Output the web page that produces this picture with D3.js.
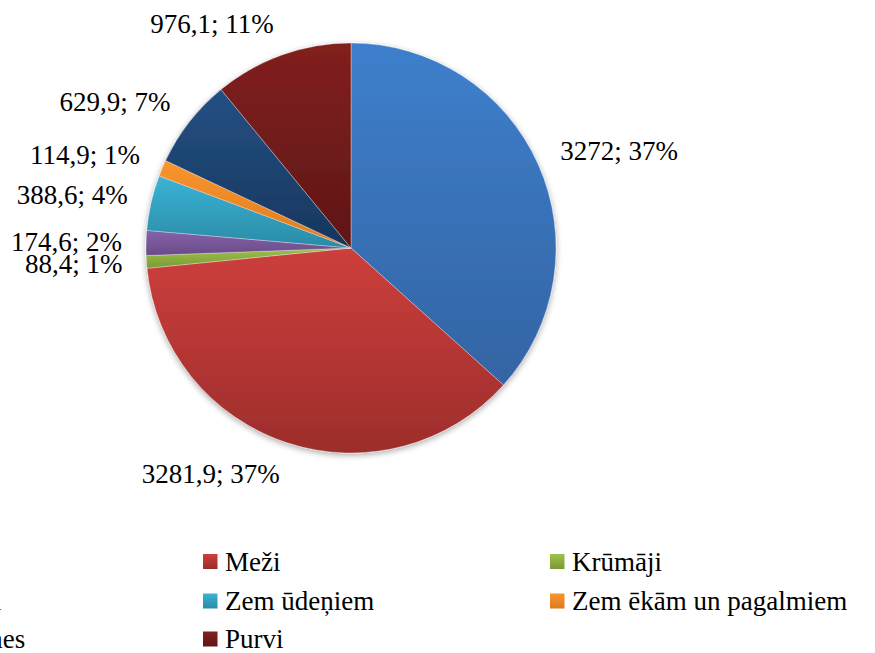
<!DOCTYPE html>
<html><head><meta charset="utf-8">
<script src="https://cdn.jsdelivr.net/npm/d3@7"></script>
</head><body style="margin:0">
<svg id="c" width="875" height="653" style="font-family:'Liberation Serif'"></svg>
<script>
const categories = ["Aramzeme","Meži","Krūmāji","Zem ceļiem","Zem ūdeņiem","Zem ēkām un pagalmiem","Pārējās zemes","Purvi"];
const values = [3272, 3281.9, 88.4, 174.6, 388.6, 114.9, 629.9, 976.1];
const labels = ["3272; 37%","3281,9; 37%","88,4; 1%","174,6; 2%","388,6; 4%","114,9; 1%","629,9; 7%","976,1; 11%"];
const topColors = ["#3d7fcc","#cd3f3c","#9dc24a","#8662aa","#3bb3d6","#f9952f","#245083","#82201f"];
const bottomColors = ["#3464a3","#9c2d2b","#7a9a36","#6a4b88","#2a8ba6","#e07a1d","#17365d","#5e1616"];
const legendOrder = [0,1,2,3,4,5,6,7];

const FONT = '"Liberation Serif"';
const svg = d3.select("#c");
const cx = 351, cy = 248, R = 205;

const defs = svg.append("defs");
categories.forEach((c,i)=>{
  const g = defs.append("linearGradient").attr("id","g"+i).attr("x1",0).attr("y1",0).attr("x2",0).attr("y2",1);
  g.append("stop").attr("offset","0%").attr("stop-color",topColors[i]);
  g.append("stop").attr("offset","100%").attr("stop-color",bottomColors[i]);
});
const f = defs.append("filter").attr("id","sh").attr("x","-10%").attr("y","-10%").attr("width","120%").attr("height","120%");
f.append("feGaussianBlur").attr("in","SourceAlpha").attr("stdDeviation",3);
f.append("feOffset").attr("dx",0).attr("dy",2).attr("result","b");
f.append("feComponentTransfer").append("feFuncA").attr("type","linear").attr("slope",0.35);
const fm = f.append("feMerge"); fm.append("feMergeNode"); fm.append("feMergeNode").attr("in","SourceGraphic");

const pie = d3.pie().sort(null).value(d=>d)(values);
const arc = d3.arc().innerRadius(0).outerRadius(R);

svg.append("g").attr("transform",`translate(${cx},${cy})`).attr("filter","url(#sh)")
  .selectAll("path").data(pie).join("path")
  .attr("d",arc).attr("fill",(d,i)=>`url(#g${i})`)
  .attr("stroke","rgba(255,255,255,0.45)").attr("stroke-width",0.7);

const off = 24;
pie.forEach((d,i)=>{
  const a = (d.startAngle+d.endAngle)/2;
  const ux = Math.sin(a), uy = -Math.cos(a);
  const px = cx + (R+off)*ux, py = cy + (R+off)*uy + uy*9 + 9;
  svg.append("text").attr("x",px).attr("y",py)
    .attr("text-anchor", Math.abs(ux)<0.05 ? "middle" : (ux<0?"end":"start"))
    .attr("font-size",27).style("font-family",FONT).attr("fill","#000")
    .text(labels[i]);
});

const colX = [-127, 225, 572];
const rowY = [561.5, 601, 639];
legendOrder.forEach((idx,k)=>{
  const col = k%3, row = Math.floor(k/3);
  svg.append("rect").attr("x",colX[col]-22).attr("y",rowY[row]-7.5).attr("width",14.5).attr("height",15).attr("fill",`url(#g${idx})`);
  svg.append("text").attr("x",colX[col]).attr("y",rowY[row]+9)
    .attr("font-size",27).style("font-family",FONT).attr("fill","#000").text(categories[idx]);
});
</script>
</body></html>
